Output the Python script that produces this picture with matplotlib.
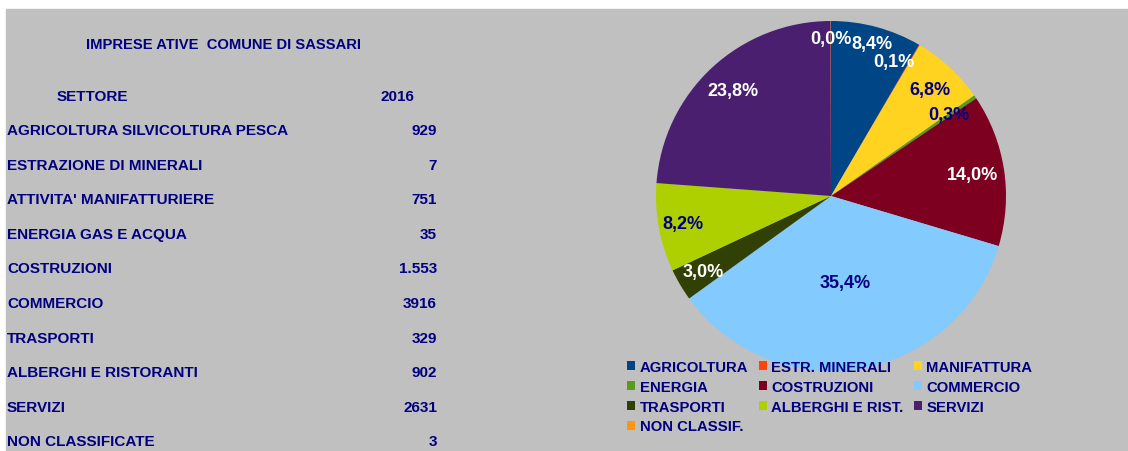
import matplotlib
matplotlib.use("Agg")
import matplotlib.pyplot as plt
from matplotlib.patches import Rectangle
import numpy as np

plt.rcParams['font.family'] = ['Liberation Sans', 'DejaVu Sans']
plt.rcParams['font.weight'] = 'bold'

# dati
titolo = "IMPRESE ATIVE  COMUNE DI SASSARI"
settori = ["AGRICOLTURA SILVICOLTURA PESCA", "ESTRAZIONE DI MINERALI",
           "ATTIVITA' MANIFATTURIERE", "ENERGIA GAS E ACQUA", "COSTRUZIONI",
           "COMMERCIO", "TRASPORTI", "ALBERGHI E RISTORANTI", "SERVIZI",
           "NON CLASSIFICATE"]
valori = [929, 7, 751, 35, 1553, 3916, 329, 902, 2631, 3]
valori_testo = ["929", "7", "751", "35", "1.553", "3916", "329", "902", "2631", "3"]
legenda = ["AGRICOLTURA", "ESTR. MINERALI", "MANIFATTURA", "ENERGIA",
           "COSTRUZIONI", "COMMERCIO", "TRASPORTI", "ALBERGHI E RIST.",
           "SERVIZI", "NON CLASSIF."]

colori = ["#004586", "#ff420e", "#ffd320", "#579d1c", "#7e0021",
          "#83caff", "#314004", "#aecf00", "#4b1f6f", "#ff950e"]
col_etichette = ["white", "white", "#000080", "#000080", "white",
                 "#000080", "white", "#000080", "white", "white"]
# posizione etichette: distanza dal centro e spostamento angolare (gradi)
dist_etichette = [0.9, 0.85, 0.83, 0.82, 0.82, 0.5, 0.85, 0.86, 0.82, 0.9]
sposta_etichette = [0, 5.5, 0, 0, 0, 0, 0, 0, 0, 0]

navy = "#000080"
W, H = 1128, 452
fig = plt.figure(figsize=(W / 100, H / 100), dpi=100)
fig.patch.set_facecolor("white")
fig.patches.append(Rectangle((6 / W, 0), 1 - 6 / W, 1 - 10 / H,
                             transform=fig.transFigure, color="#c0c0c0", zorder=-10))

# tabella a sinistra
fig.text(223 / W, 1 - 45 / H, titolo, ha="center", va="center", color=navy, fontsize=10.6)
fig.text(92 / W, 1 - 97 / H, "SETTORE", ha="center", va="center", color=navy, fontsize=11)
fig.text(414 / W, 1 - 97 / H, "2016", ha="right", va="center", color=navy, fontsize=11)
for i, (s, v) in enumerate(zip(settori, valori_testo)):
    y = 1 - (131 + i * 34.6) / H
    fig.text(7 / W, y, s, ha="left", va="center", color=navy, fontsize=11)
    fig.text(437 / W, y, v, ha="right", va="center", color=navy, fontsize=11)

# torta
R = 175
cx, cy = 831, 197
ax = fig.add_axes([(cx - R) / W, (H - cy - R) / H, 2 * R / W, 2 * R / H])
wedges, _ = ax.pie(valori, colors=colori, startangle=90, counterclock=False,
                   wedgeprops=dict(linewidth=0))
ax.set_xlim(-1, 1)
ax.set_ylim(-1, 1)
ax.set_aspect("equal")
ax.axis("off")

tot = float(sum(valori))
for w, v, c, d, s in zip(wedges, valori, col_etichette, dist_etichette, sposta_etichette):
    ang = np.deg2rad((w.theta1 + w.theta2) / 2 + s)
    testo = f"{100 * v / tot:.1f}%".replace(".", ",")
    ax.text(d * np.cos(ang), d * np.sin(ang), testo, ha="center", va="center",
            color=c, fontsize=13, fontweight="bold")

# legenda (ordine per righe)
ordine = [0, 3, 6, 9, 1, 4, 7, 2, 5, 8]
leg = fig.legend([wedges[i] for i in ordine], [legenda[i] for i in ordine],
                 loc="upper left", bbox_to_anchor=(627 / W, 1 - 361 / H),
                 ncol=3, frameon=False, borderpad=0, borderaxespad=0,
                 handlelength=0.55, handleheight=0.55, handletextpad=0.3,
                 labelspacing=0.39, columnspacing=0.7, fontsize=10.7)
for t in leg.get_texts():
    t.set_color(navy)

fig.savefig("out.png", dpi=100)
